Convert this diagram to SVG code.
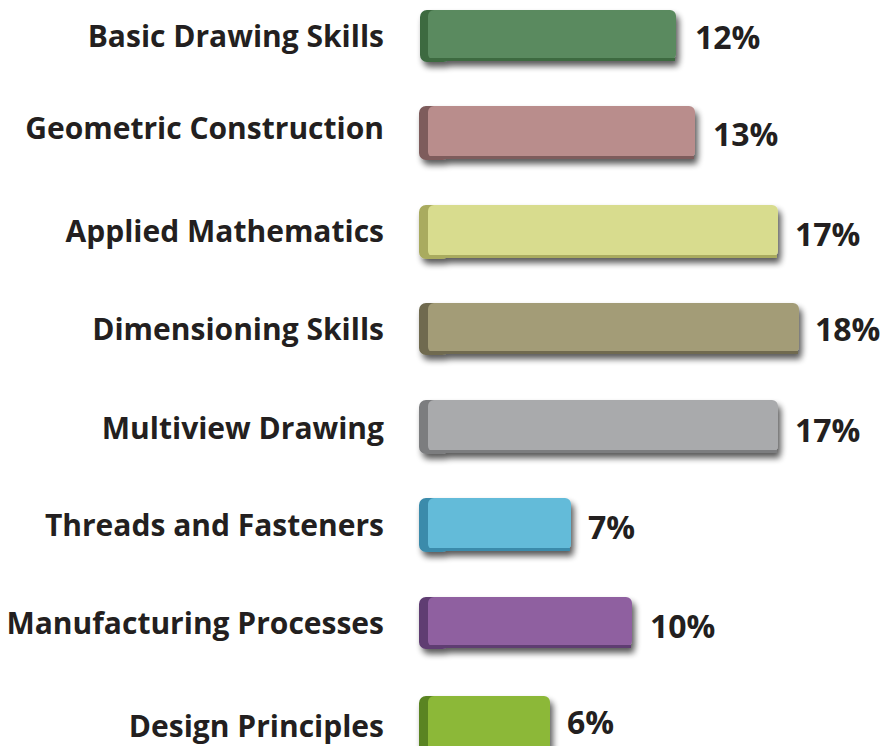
<svg xmlns="http://www.w3.org/2000/svg" width="885" height="746" viewBox="0 0 885 746">
<defs>
<filter id="sh" x="-10%" y="-30%" width="125%" height="180%">
<feGaussianBlur in="SourceAlpha" stdDeviation="3"/>
<feOffset dx="3" dy="5" result="b"/>
<feComponentTransfer><feFuncA type="linear" slope="0.65"/></feComponentTransfer>
<feMerge><feMergeNode/><feMergeNode in="SourceGraphic"/></feMerge>
</filter>
</defs>
<style>
.lbl{font-family:"Open Sans","Liberation Sans",Arial,sans-serif;font-weight:bold;font-size:30px;fill:#231f20;text-anchor:end}
.pct{font-family:"Open Sans","Liberation Sans",Arial,sans-serif;font-weight:bold;font-size:32px;fill:#231f20}
</style>
<g id="bar1">
<text class="lbl" x="384" y="47">Basic Drawing Skills</text>
<g filter="url(#sh)"><rect x="420" y="10" width="30" height="52" rx="7" fill="#3c6a41"/><rect x="428" y="10" width="248" height="50" rx="6" fill="#5a8a5e"/><rect x="429" y="58" width="246" height="3" fill="#3c6a41"/></g>
<text class="pct" x="695" y="49">12%</text>
</g>
<g id="bar2">
<text class="lbl" x="384" y="139">Geometric Construction</text>
<g filter="url(#sh)"><rect x="419" y="106" width="30" height="54" rx="7" fill="#7e5b5c"/><rect x="428" y="106" width="267" height="52" rx="6" fill="#b98d8c"/><rect x="429" y="156" width="265" height="3" fill="#7e5b5c"/></g>
<text class="pct" x="713" y="146">13%</text>
</g>
<g id="bar3">
<text class="lbl" x="384" y="242">Applied Mathematics</text>
<g filter="url(#sh)"><rect x="419" y="205" width="30" height="54" rx="7" fill="#a9ab5e"/><rect x="428" y="205" width="350" height="52" rx="6" fill="#d8dc8e"/><rect x="429" y="255" width="348" height="3" fill="#a9ab5e"/></g>
<text class="pct" x="795" y="246">17%</text>
</g>
<g id="bar4">
<text class="lbl" x="384" y="340">Dimensioning Skills</text>
<g filter="url(#sh)"><rect x="419" y="303" width="30" height="52" rx="7" fill="#6f6a50"/><rect x="428" y="303" width="371" height="50" rx="6" fill="#a39c77"/><rect x="429" y="351" width="369" height="3" fill="#6f6a50"/></g>
<text class="pct" x="815" y="341">18%</text>
</g>
<g id="bar5">
<text class="lbl" x="384" y="439">Multiview Drawing</text>
<g filter="url(#sh)"><rect x="419" y="400" width="30" height="54" rx="7" fill="#7c7d7f"/><rect x="428" y="400" width="350" height="52" rx="6" fill="#a9aaac"/><rect x="429" y="450" width="348" height="3" fill="#7c7d7f"/></g>
<text class="pct" x="795" y="442">17%</text>
</g>
<g id="bar6">
<text class="lbl" x="384" y="536">Threads and Fasteners</text>
<g filter="url(#sh)"><rect x="419" y="498" width="30" height="54" rx="7" fill="#3a8bab"/><rect x="428" y="498" width="143" height="52" rx="6" fill="#63bbd9"/><rect x="429" y="548" width="141" height="3" fill="#3a8bab"/></g>
<text class="pct" x="588" y="539">7%</text>
</g>
<g id="bar7">
<text class="lbl" x="384" y="634">Manufacturing Processes</text>
<g filter="url(#sh)"><rect x="419" y="597" width="30" height="52" rx="7" fill="#5e3c72"/><rect x="428" y="597" width="204" height="50" rx="6" fill="#8f61a0"/><rect x="429" y="645" width="202" height="3" fill="#5e3c72"/></g>
<text class="pct" x="650" y="638">10%</text>
</g>
<g id="bar8">
<text class="lbl" x="384" y="737">Design Principles</text>
<g filter="url(#sh)"><rect x="419" y="696" width="30" height="60" rx="7" fill="#5a8422"/><rect x="428" y="696" width="122" height="58" rx="6" fill="#8cb838"/></g>
<text class="pct" x="567" y="734">6%</text>
</g>
<g id="connectors"/>
</svg>
